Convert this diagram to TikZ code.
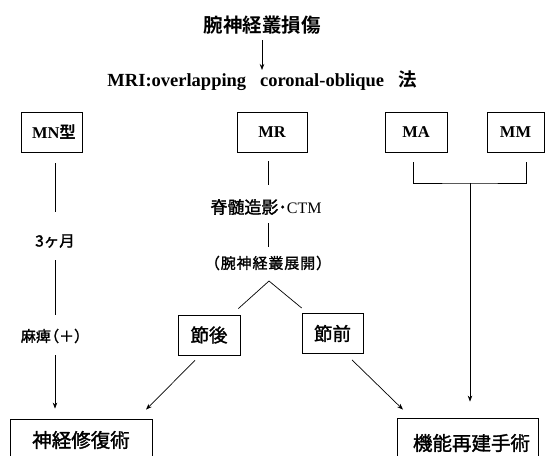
\documentclass[tikz,border=0pt]{standalone}
\usepackage{fontspec}
\setmainfont{Liberation Serif}
\newfontfamily\cjk{Noto Sans CJK JP}[BoldFont={* Bold}]
\newfontfamily\cjkm{Noto Sans CJK JP}[FakeBold=1.6]
\newfontfamily\cjksp{Noto Sans CJK JP}[FakeBold=1.6,LetterSpace=6]
\usetikzlibrary{arrows.meta,calc}
\begin{document}
\begin{tikzpicture}[x=1pt,y=-1pt,
  box/.style={draw, line width=0.8pt, inner sep=0pt, minimum height=40pt},
  lbl/.style={inner sep=0pt},
  tip/.style={-{Stealth[length=6pt,width=4.5pt]}},
  ln/.style={line width=0.7pt},
  lat/.style={font=\bfseries\fontsize{16.5}{16.5}\selectfont},
  cjkbox/.style={font=\cjkm\fontsize{18.5}{18.5}\selectfont},
  cjkbig/.style={font=\cjkm\fontsize{19.5}{19.5}\selectfont}]
\useasboundingbox (0,0) rectangle (545,455);
\clip (0,0) rectangle (545,455);

\node[lbl, font=\cjk\bfseries\fontsize{19.5}{19.5}\selectfont] (title) at (262,25) {腕神経叢損傷};
\node[lbl, font=\bfseries\fontsize{18.5}{18.5}\selectfont] (mri) at (262,81) {MRI:overlapping\hspace{0.75em}coronal-oblique\hspace{0.75em}{\cjk\bfseries 法}};

\node[box, lat, minimum width=61pt] (mn) at (51.5,132) {\hspace*{5pt}MN{\cjk\bfseries 型}};
\node[box, lat, minimum width=70pt] (mr) at (272,132) {MR};
\node[box, lat, minimum width=62pt] (ma) at (416,132) {MA};
\node[box, lat, minimum width=57pt] (mm) at (515.5,132) {MM};

\node[lbl, font=\cjkm\fontsize{15.5}{15.5}\selectfont] (m3) at (55,241) {3ヶ月};
\node[lbl, font=\cjkm\fontsize{15}{15}\selectfont] (mahi) at (55,336) {麻痺\hspace{-0.45em}（＋）};
\node[lbl, font=\fontsize{16}{16}\selectfont] (sek) at (266,207) {{\cjkm\fontsize{17}{17}\selectfont 脊髄造影･}CTM};
\node[lbl, font=\cjksp\fontsize{15}{15}\selectfont] (ten) at (268,263) {（腕神経叢展開）};
\coordinate (apex) at (269,281);
\node[box, cjkbox, minimum width=62pt] (sgo) at (209,335) {節後};
\node[box, cjkbox, minimum width=61pt] (szen) at (332.5,333.5) {節前};
\node[box, cjkbig, minimum width=142pt, minimum height=42pt] (shin) at (81,440) {神経修復術};
\node[box, cjkbig, minimum width=141pt, minimum height=50pt] (kin) at (467.5,443) {\hspace*{8pt}機能再建手術};

\draw[ln, tip, shorten <=15pt, shorten >=11pt] (title.center) -- (mri.center);

\draw[ln, shorten <=11pt, shorten >=29pt] (m3.center |- mn.south) -- (m3.center);
\draw[ln, shorten <=19pt, shorten >=21pt] (m3.center) -- (mahi.center);
\draw[ln, tip, shorten <=19pt, shorten >=10pt] (mahi.center) -- (mahi.center |- shin.north);

\draw[ln, shorten <=9pt, shorten >=22pt] (ten.center |- mr.south) -- (ten.center |- sek.center);
\draw[ln, shorten <=16pt, shorten >=16pt] (ten.center |- sek.center) -- (ten.center);
\draw[ln, shorten >=9pt] (apex) -- (sgo);
\draw[ln, shorten >=8pt] (apex) -- (szen);
\draw[ln, tip] ([xshift=-14pt,yshift=-5pt]sgo.south) -- ([xshift=65pt,yshift=9pt]shin.north);
\draw[ln, tip] ([xshift=19.5pt,yshift=-6pt]szen.south) -- ([xshift=-64.5pt,yshift=8pt]kin.north);

\coordinate (br) at (470,183);
\draw[ln] ([xshift=-3pt,yshift=-10pt]ma.south) |- (br) -| ([xshift=10.5pt,yshift=-10pt]mm.south);
\draw[ln, tip, shorten >=16pt] (br) -- (br |- kin.north);
\end{tikzpicture}
\end{document}
